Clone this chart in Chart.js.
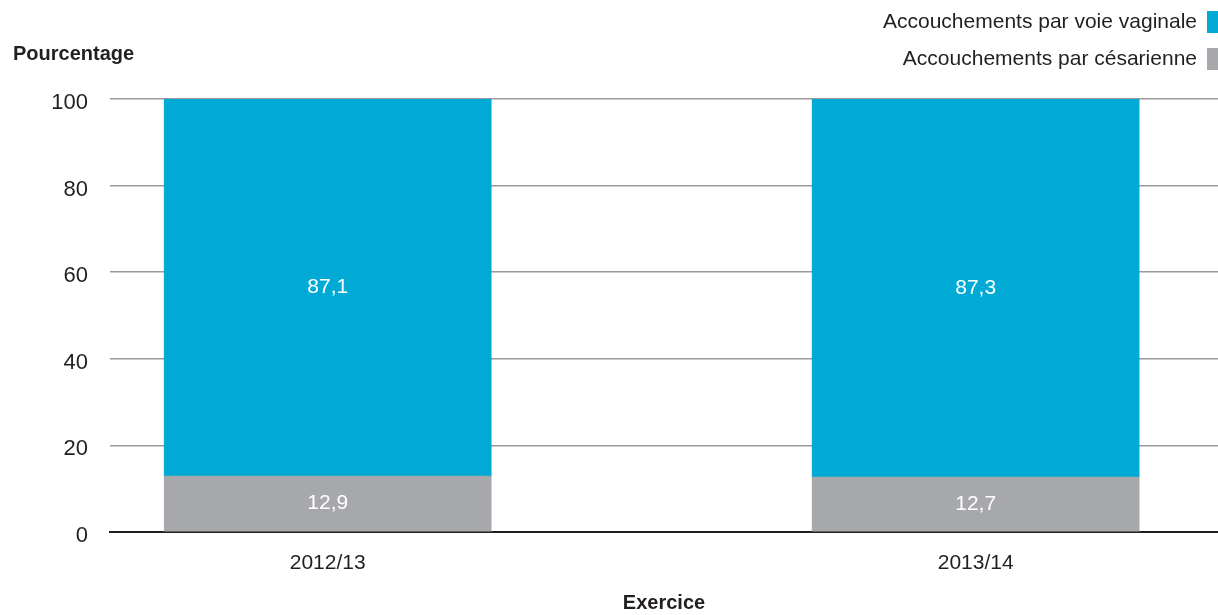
<!DOCTYPE html>
<html>
<head>
<meta charset="utf-8">
<script src="https://cdn.jsdelivr.net/npm/chart.js@4/dist/chart.umd.min.js"></script>
<style>
  html, body { margin: 0; padding: 0; background: #fff; }
  #wrap { width: 1218px; height: 615px; }
</style>
</head>
<body>
<div id="wrap"><canvas id="chart"></canvas></div>
<script>
// values
var years = ['2012/13', '2013/14'];
var cesarienne = [12.9, 12.7];
var vaginale = [87.1, 87.3];
var yTicks = [0, 20, 40, 60, 80, 100];

var textColor = '#231f20';
var font = "'Liberation Sans', Arial, Helvetica, sans-serif";

function toPoints(values) {
    return values.map(function(v, i) { return {x: i, y: v}; });
}

// white value labels in the middle of each segment
var valueLabels = {
    id: 'valueLabels',
    afterDatasetsDraw: function(chart) {
        var ctx = chart.ctx;
        ctx.save();
        ctx.fillStyle = '#ffffff';
        ctx.font = '21px ' + font;
        ctx.textAlign = 'center';
        ctx.textBaseline = 'middle';
        chart.data.datasets.forEach(function(ds, d) {
            chart.getDatasetMeta(d).data.forEach(function(el, i) {
                var txt = ds.data[i].y.toFixed(1).replace('.', ',');
                ctx.fillText(txt, el.x, (el.y + el.base) / 2);
            });
        });
        ctx.restore();
    }
};

// axis caption top left + legend top right (box on the right of the text)
var headerText = {
    id: 'headerText',
    afterDraw: function(chart) {
        var ctx = chart.ctx;
        ctx.save();
        ctx.fillStyle = textColor;
        ctx.font = 'bold 20px ' + font;
        ctx.textAlign = 'left';
        ctx.textBaseline = 'middle';
        ctx.fillText('Pourcentage', 13, 54);

        var items = chart.data.datasets.slice().reverse();
        ctx.font = '21px ' + font;
        ctx.textAlign = 'right';
        items.forEach(function(ds, i) {
            var cy = 22 + i * 37;
            ctx.fillStyle = textColor;
            ctx.fillText(ds.label, 1197, cy);
            ctx.fillStyle = ds.backgroundColor;
            ctx.fillRect(1207, cy - 11, 11, 22);
        });
        ctx.restore();
    }
};

var config = {
    type: 'bar',
    data: {
        datasets: [{
            label: 'Accouchements par césarienne',
            data: toPoints(cesarienne),
            backgroundColor: '#a7a8ab',
            barThickness: 327
        }, {
            label: 'Accouchements par voie vaginale',
            data: toPoints(vaginale),
            backgroundColor: '#00aad4',
            barThickness: 327
        }]
    },
    options: {
        responsive: true,
        maintainAspectRatio: false,
        animation: false,
        layout: { padding: { top: 99, left: 0, right: 0, bottom: 0 } },
        plugins: {
            legend: { display: false },
            tooltip: { enabled: false }
        },
        scales: {
            x: {
                type: 'linear',
                stacked: true,
                offset: false,
                min: -0.336,
                max: 1.374,
                afterBuildTicks: function(scale) {
                    scale.ticks = years.map(function(_, i) { return {value: i}; });
                },
                afterFit: function(scale) { scale.height = 83; },
                grid: { display: false, drawTicks: false },
                border: { display: true, color: textColor, width: 2 },
                ticks: {
                    padding: 19,
                    color: textColor,
                    font: { family: font, size: 21 },
                    callback: function(v) { return years[v]; }
                },
                title: {
                    display: true,
                    text: 'Exercice',
                    color: textColor,
                    font: { family: font, size: 20, weight: 'bold' },
                    padding: { top: 0, bottom: 0 }
                }
            },
            y: {
                stacked: true,
                min: 0,
                max: 100,
                afterBuildTicks: function(scale) {
                    scale.ticks = yTicks.map(function(v) { return {value: v}; });
                },
                afterFit: function(scale) { scale.width = 110; },
                grid: { color: '#9a9a9a', lineWidth: 1.5, drawTicks: false },
                border: { display: false },
                ticks: {
                    padding: 22,
                    labelOffset: 4,
                    color: textColor,
                    font: { family: font, size: 22 }
                }
            }
        }
    },
    plugins: [valueLabels, headerText]
};

window.onload = function() {
    var ctx = document.getElementById('chart').getContext('2d');
    window.myBar = new Chart(ctx, config);
};
</script>
</body>
</html>
